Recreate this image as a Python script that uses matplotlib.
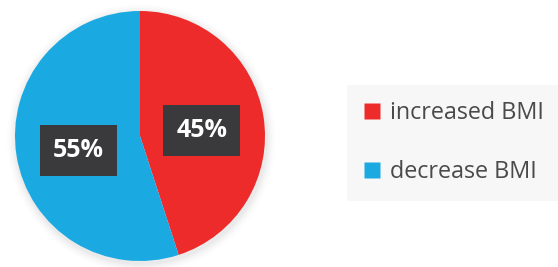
import matplotlib.pyplot as plt
from matplotlib.lines import Line2D
from matplotlib.patches import Circle

labels = ["increased BMI", "decrease BMI"]
shares = [45, 55]
colors = ["#ee2b2b", "#1ba9e1"]

fig = plt.figure(figsize=(5.58, 2.67), dpi=100)
fig.patch.set_facecolor("white")

# pie axes, center ~ (140, 136) px, radius ~125 px
ax = fig.add_axes([15 / 558, 6 / 267, 250 / 558, 250 / 267])

# soft shadow around the pie
for i, a in enumerate([0.05, 0.04, 0.03, 0.02, 0.01]):
    ax.add_patch(Circle((0.01, -0.02), 1.0 + 0.015 * (i + 1), color="#888888",
                        alpha=a, lw=0, zorder=0, clip_on=False))

wedges, texts, autotexts = ax.pie(
    shares, colors=colors, startangle=90, counterclock=False,
    autopct="%d%%", pctdistance=0.5,
    wedgeprops=dict(linewidth=0),
    textprops=dict(color="white", fontsize=18, fontweight="bold", family="Open Sans"),
)
for t in autotexts:
    x, y = t.get_position()
    t.set_position((x, y - 0.035))
    t.set_bbox(dict(boxstyle="square,pad=0.52", facecolor="#3a3a3c", edgecolor="none"))
    t.set_zorder(5)

ax.set_xlim(-1, 1)
ax.set_ylim(-1, 1)
ax.set_aspect("equal")
ax.axis("off")

handles = [Line2D([], [], marker="s", linestyle="none", markersize=11.5,
                  markerfacecolor=c, markeredgecolor="none") for c in colors]
leg = fig.legend(handles, labels, loc="upper left", bbox_to_anchor=(347 / 558, 1 - 85 / 267),
                 frameon=True, fancybox=False, labelspacing=1.5, borderaxespad=0,
                 handlelength=0.7, handletextpad=0.45, borderpad=0.7,
                 prop=dict(family="Open Sans", size=16.8))
leg.get_frame().set_facecolor("#f6f6f6")
leg.get_frame().set_edgecolor("none")
for t in leg.get_texts():
    t.set_color("#4a4a4a")

fig.savefig("out.png", dpi=100)
